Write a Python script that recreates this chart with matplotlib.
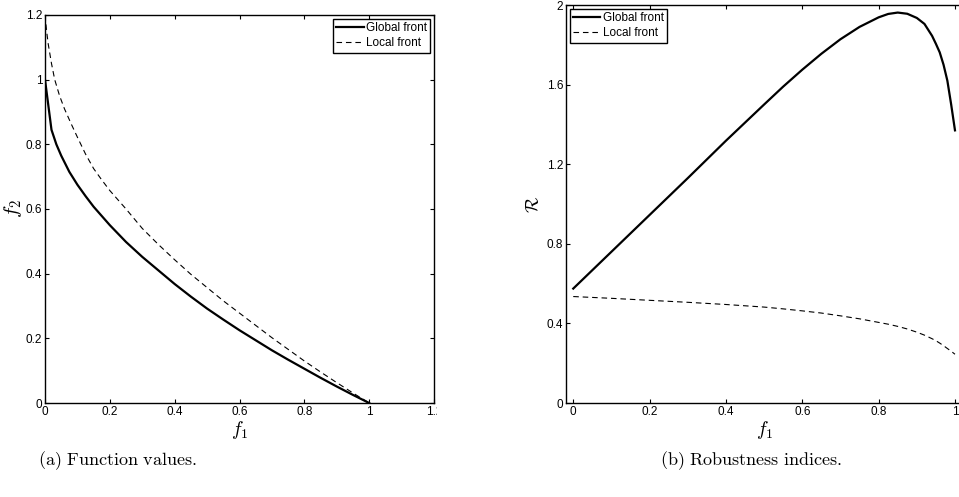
import matplotlib
matplotlib.use('Agg')
import matplotlib.pyplot as plt
from matplotlib.transforms import Bbox

plt.rcParams['font.family'] = ['Liberation Sans', 'DejaVu Sans']
plt.rcParams['mathtext.fontset'] = 'cm'

# (a) function values
glob_f1 = [0, 0.02, 0.035, 0.05, 0.075, 0.1, 0.125, 0.15, 0.2, 0.25, 0.3, 0.35, 0.4,
           0.45, 0.5, 0.55, 0.6, 0.65, 0.7, 0.75, 0.8, 0.85, 0.9, 0.95, 1.0]
glob_f2 = [1.0, 0.845, 0.80, 0.765, 0.715, 0.675, 0.64, 0.607, 0.55, 0.498, 0.452, 0.41, 0.368,
           0.329, 0.292, 0.258, 0.225, 0.194, 0.163, 0.134, 0.106, 0.078, 0.051, 0.025, 0.0]
loc_f1 = [0, 0.005, 0.01, 0.02, 0.03, 0.045, 0.06, 0.08, 0.1, 0.125, 0.15, 0.175, 0.2, 0.25,
          0.3, 0.35, 0.4, 0.45, 0.5, 0.55, 0.6, 0.65, 0.7, 0.75, 0.8, 0.85, 0.9, 0.95, 1.0]
loc_f2 = [1.2, 1.15, 1.11, 1.05, 1.0, 0.95, 0.91, 0.865, 0.822, 0.77, 0.725, 0.69, 0.657, 0.6,
          0.54, 0.49, 0.443, 0.398, 0.357, 0.316, 0.278, 0.24, 0.202, 0.166, 0.13, 0.096, 0.063, 0.031, 0.0]

# (b) robustness indices
rob_f1 = [0, 0.1, 0.2, 0.3, 0.4, 0.5, 0.55, 0.6, 0.65, 0.7, 0.75, 0.8, 0.825, 0.85,
          0.875, 0.9, 0.92, 0.94, 0.95, 0.96, 0.97, 0.98, 0.99, 1.0]
rob_glob = [0.575, 0.76, 0.945, 1.13, 1.318, 1.5, 1.59, 1.675, 1.755, 1.828, 1.89, 1.938, 1.955, 1.962,
            1.956, 1.935, 1.905, 1.845, 1.805, 1.762, 1.70, 1.62, 1.5, 1.37]
rob_loc = [0.535, 0.526, 0.516, 0.506, 0.495, 0.482, 0.473, 0.463, 0.452, 0.438, 0.423, 0.405, 0.396, 0.385,
           0.372, 0.356, 0.341, 0.323, 0.313, 0.301, 0.288, 0.274, 0.26, 0.245]

W, H = 959, 497
fig = plt.figure(figsize=(W / 100, H / 100), dpi=100)


def px_axes(x0, y0, x1, y1):
    return fig.add_axes([x0 / W, 1 - y1 / H, (x1 - x0) / W, (y1 - y0) / H])


def style(ax):
    ax.tick_params(direction='in', top=True, right=True, length=3, width=0.8,
                   labelsize=8.5, pad=2)
    for s in ax.spines.values():
        s.set_linewidth(1.0)


def add_legend(ax, loc):
    leg = ax.legend(loc=loc, fontsize=8.5, fancybox=False, edgecolor='black',
                    framealpha=1, handlelength=2.3, handletextpad=0.2, borderpad=0.3,
                    labelspacing=0.25, borderaxespad=0.3)
    leg.get_frame().set_linewidth(1.0)


ax1 = px_axes(45, 15, 434, 403)
ax1.plot(glob_f1, glob_f2, 'k-', lw=1.6, label='Global front')
ax1.plot(loc_f1, loc_f2, 'k--', lw=0.8, dashes=(5, 3.5), label='Local front')
ax1.set_xlim(0, 1.2)
ax1.set_ylim(0, 1.2)
ax1.set_xticks([0, 0.2, 0.4, 0.6, 0.8, 1, 1.2])
ax1.set_xticklabels(['0', '0.2', '0.4', '0.6', '0.8', '1', '1.2'])
ax1.set_yticks([0, 0.2, 0.4, 0.6, 0.8, 1, 1.2])
ax1.set_yticklabels(['0', '0.2', '0.4', '0.6', '0.8', '1', '1.2'])
style(ax1)
ax1.set_xlabel(r'$f_1$', fontsize=14, labelpad=1)
ax1.set_ylabel(r'$f_2$', fontsize=15, labelpad=1)
add_legend(ax1, 'upper right')

ax2 = px_axes(566, 5, 963, 403)
ax2.plot(rob_f1, rob_glob, 'k-', lw=1.6, label='Global front')
ax2.plot(rob_f1, rob_loc, 'k--', lw=0.8, dashes=(5, 3.5), label='Local front')
ax2.set_xlim(-0.019, 1.021)
ax2.set_ylim(0, 2)
ax2.set_xticks([0, 0.2, 0.4, 0.6, 0.8, 1])
ax2.set_xticklabels(['0', '0.2', '0.4', '0.6', '0.8', '1'])
ax2.set_yticks([0, 0.4, 0.8, 1.2, 1.6, 2])
ax2.set_yticklabels(['0', '0.4', '0.8', '1.2', '1.6', '2'])
style(ax2)
ax2.set_xlabel(r'$f_1$', fontsize=14, labelpad=1)
ax2.set_ylabel(r'$\mathcal{R}$', fontsize=13, labelpad=3)
add_legend(ax2, 'upper left')

# the left panel is cut off just after its right spine, as in the reference
fig.canvas.draw()
clip = Bbox.from_extents(0, 0, 437, H)
for lab in ax1.get_xticklabels():
    lab.set_clip_box(clip)
    lab.set_clip_on(True)

fig.text(117 / W, 1 - 461 / H, r'$\mathrm{(a)\ Function\ values.}$', fontsize=13,
         ha='center', va='center')
fig.text(751 / W, 1 - 461 / H, r'$\mathrm{(b)\ Robustness\ indices.}$', fontsize=13,
         ha='center', va='center')

fig.savefig('out.png', dpi=100)
